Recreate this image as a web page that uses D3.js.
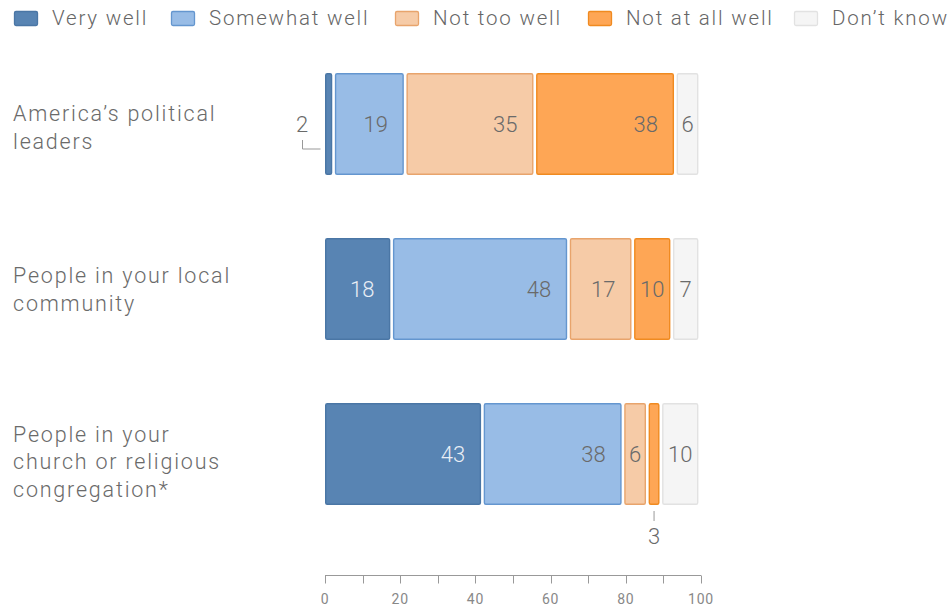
<!DOCTYPE html>
<html><head><meta charset="utf-8">
<script src="https://cdn.jsdelivr.net/npm/d3@7"></script>
<style>
body{margin:0;background:#fff;}
text{font-family:Roboto,"Helvetica Neue",Arial,sans-serif;}
</style></head>
<body><svg id="c" width="948" height="607"></svg>
<script>
const categories = [["America\u2019s political","leaders"],["People in your local","community"],["People in your","church or religious","congregation*"]];
const seriesNames = ["Very well","Somewhat well","Not too well","Not at all well","Don\u2019t know"];
const veryWell = [2,18,43];
const somewhatWell = [19,48,38];
const notTooWell = [35,17,6];
const notAtAllWell = [38,10,3];
const dontKnow = [6,7,10];
const tickValues = [0,10,20,30,40,50,60,70,80,90,100];
const tickLabels = [0,20,40,60,80,100];

const fills = ["#5884b3","#98bce6","#f6cba7","#fea655","#f5f5f5"];
const strokes = ["#4a76a5","#6496cf","#e8a46c","#f08a20","#e2e2e2"];
const textCols = ["#e9eef5","#6a6a6a","#6a6a6a","#6a6a6a","#6a6a6a"];

const series = [veryWell,somewhatWell,notTooWell,notAtAllWell,dontKnow];
const svg = d3.select("#c");
const x0 = 325, gap = 2.6;
const axisX = d3.scaleLinear().domain([0,100]).range([x0,701]);
const w = d3.scaleLinear().domain([0,100]).range([0,363]);
const y = d3.scaleBand().domain(d3.range(categories.length)).range([73,505]).paddingInner(0.382).paddingOuter(0);
const lblOff = [3,0,7];

// legend
const legX = [14,171,395,588,794];
const lg = svg.append("g");
seriesNames.forEach((n,i)=>{
  lg.append("rect").attr("x",legX[i]+0.5).attr("y",11.5).attr("width",23).attr("height",14).attr("rx",1.5)
    .attr("fill",fills[i]).attr("stroke",strokes[i]).attr("stroke-width",1.3);
  lg.append("text").attr("x",legX[i]+38).attr("y",25).attr("font-size",20.5).attr("fill","#666")
    .attr("letter-spacing","1.8px").attr("font-weight",300).text(n);
});

// bars
categories.forEach((cat,r)=>{
  const by = y(r), bh = y.bandwidth();
  let cum = 0;
  series.forEach((s,i)=>{
    const v = s[r];
    const xs = x0 + w(cum) + i*gap;
    const bw = w(v);
    svg.append("rect").attr("x",xs+0.7).attr("y",by+0.7).attr("width",Math.max(bw-1.4,1)).attr("height",bh-1.4)
      .attr("rx",1.5).attr("fill",fills[i]).attr("stroke",strokes[i]).attr("stroke-width",1.4);
    const cy = by+bh/2+8;
    if (v < 4) {
      if (r===0) {
        svg.append("path").attr("d",`M302.5,140V149H320.5`).attr("fill","none").attr("stroke","#999").attr("stroke-width",1);
        svg.append("text").attr("x",302).attr("y",cy).attr("text-anchor","middle").attr("font-size",22).attr("font-weight",300).attr("fill","#6a6a6a").text(v);
      } else {
        const cx = xs + bw/2;
        svg.append("line").attr("x1",cx).attr("x2",cx).attr("y1",by+bh+6).attr("y2",by+bh+16).attr("stroke","#999");
        svg.append("text").attr("x",cx).attr("y",by+bh+39).attr("text-anchor","middle").attr("font-size",22).attr("font-weight",300).attr("fill","#6a6a6a").text(v);
      }
    } else if (bw < 45) {
      svg.append("text").attr("x",xs+bw/2).attr("y",cy).attr("text-anchor","middle").attr("font-size",22).attr("font-weight",300).attr("fill",textCols[i]).text(v);
    } else {
      svg.append("text").attr("x",xs+bw-16).attr("y",cy).attr("text-anchor","end").attr("font-size",22).attr("font-weight",300).attr("fill",textCols[i]).text(v);
    }
    cum += v;
  });
  const n = cat.length;
  const first = by + bh/2 - (n-1)*27.5/2 + 8 + lblOff[r];
  const t = svg.append("text").attr("font-size",21.5).attr("font-weight",300).attr("fill","#6a6a6a").attr("letter-spacing","1.8px");
  cat.forEach((line,k)=>{
    t.append("tspan").attr("x",13).attr("y",first+k*27.5).text(line);
  });
});

// axis
const ag = svg.append("g").attr("transform","translate(0,575.5)");
ag.append("line").attr("x1",axisX(0)).attr("x2",axisX(100)).attr("stroke","#999");
tickValues.forEach(v=>{
  ag.append("line").attr("x1",Math.round(axisX(v))+0.5).attr("x2",Math.round(axisX(v))+0.5).attr("y1",0).attr("y2",8).attr("stroke","#999");
});
tickLabels.forEach(v=>{
  ag.append("text").attr("x",axisX(v)).attr("y",28).attr("text-anchor","middle").attr("font-size",14).attr("fill","#888").attr("letter-spacing","0.8px").text(v);
});
</script></body></html>
